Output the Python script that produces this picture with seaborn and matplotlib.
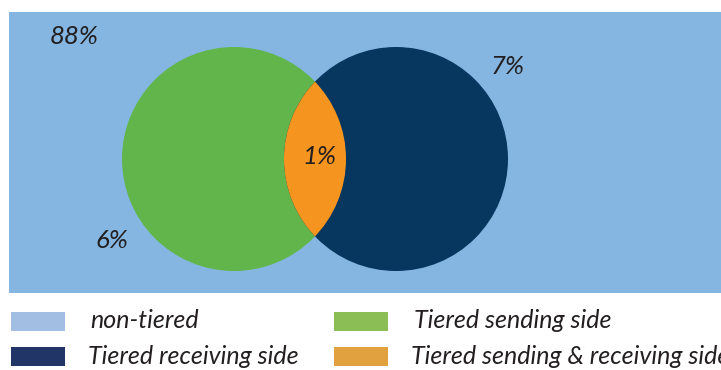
import matplotlib
matplotlib.use("Agg")
import matplotlib.pyplot as plt
import seaborn as sns
from matplotlib.patches import Circle, Rectangle

sns.set_theme(style="white")
plt.rcParams["font.family"] = ["Lato", "DejaVu Sans"]

# Segments and their shares
categories = ["non-tiered", "Tiered sending side", "Tiered receiving side",
              "Tiered sending & receiving side"]
shares = [88, 6, 7, 1]
share_labels = [f"{v}%" for v in shares]

# Fill colours for the diagram and the legend keys
area_colors = ["#84B6E1", "#62B54A", "#07365E", "#F5941F"]
key_colors = ["#A3BEE3", "#8BBF55", "#213566", "#E0A13E"]

fig = plt.figure(figsize=(7.21, 3.70), dpi=100)
ax = fig.add_axes([0, 0, 1, 1])
ax.set_xlim(0, 721)
ax.set_ylim(370, 0)
ax.set_aspect("equal")
ax.axis("off")

# Universe rectangle
ax.add_patch(Rectangle((9, 12), 712, 281, facecolor=area_colors[0], edgecolor="none"))

r = 112
send = Circle((234, 159), r, facecolor=area_colors[1], edgecolor="none")
recv = Circle((396, 159), r, facecolor=area_colors[2], edgecolor="none")
ax.add_patch(send)
ax.add_patch(recv)

# Overlap: receiving circle clipped by the sending circle
both = Circle((396, 159), r, facecolor=area_colors[3], edgecolor="none")
ax.add_patch(both)
clip = Circle((234, 159), r, transform=ax.transData)
both.set_clip_path(clip)

label_pos = [(74, 37), (112, 241), (508, 67), (319, 157)]
for txt, (x, y) in zip(share_labels, label_pos):
    ax.text(x, y, txt, ha="center", va="center", fontsize=18.5, style="italic",
            color="#231F20")

# Legend
legend_layout = [
    (0, (11, 312), (90, 321)),
    (1, (334, 312), (414, 321)),
    (2, (11, 347), (88, 356)),
    (3, (334, 347), (411, 356)),
]
for idx, (sx, sy), (tx, ty) in legend_layout:
    ax.add_patch(Rectangle((sx, sy), 54, 19, facecolor=key_colors[idx], edgecolor="none"))
    ax.text(tx, ty, categories[idx], ha="left", va="center", fontsize=18,
            style="italic", color="#231F20")

fig.savefig("out.png", dpi=100)
